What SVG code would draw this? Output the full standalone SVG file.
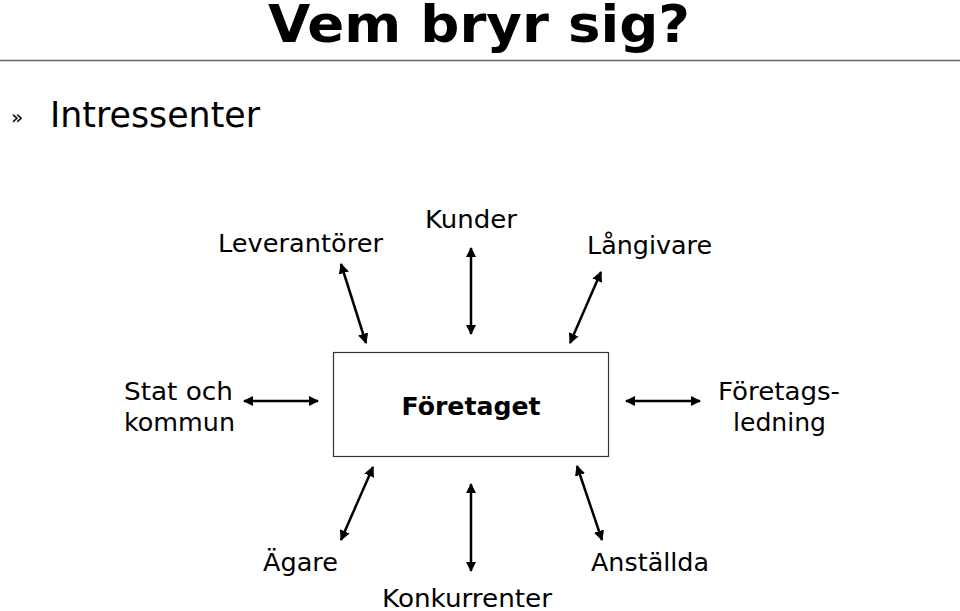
<svg xmlns="http://www.w3.org/2000/svg" width="960" height="611" viewBox="0 0 960 611">
<defs>
<marker id="ah" viewBox="0 0 10 10" refX="9" refY="5" markerWidth="4.2" markerHeight="4.2" orient="auto-start-reverse" markerUnits="strokeWidth">
<path d="M0,0 L10,5 L0,10 z" fill="#000"/>
</marker>
<style>
.lbl{font-family:"DejaVu Sans",Verdana,sans-serif;font-size:24px;fill:#000}
.c{stroke:#000;stroke-width:2.5;fill:none;marker-start:url(#ah);marker-end:url(#ah)}
</style>
</defs>
<rect width="960" height="611" fill="#fff"/>
<text x="268" y="42" font-family="DejaVu Sans,Verdana,sans-serif" font-weight="bold" font-size="52" textLength="422" lengthAdjust="spacingAndGlyphs">Vem bryr sig?</text>
<line x1="0" y1="60.5" x2="960" y2="60.5" stroke="#666" stroke-width="1.5"/>
<text x="11" y="124" font-family="DejaVu Sans,Verdana,sans-serif" font-size="20">»</text>
<text x="50" y="127" font-family="DejaVu Sans,Verdana,sans-serif" font-size="35" textLength="210" lengthAdjust="spacingAndGlyphs">Intressenter</text>
<g id="foretaget">
<rect x="333.5" y="352.5" width="275" height="104" fill="#fff" stroke="#333" stroke-width="1.2"/>
<text x="471" y="415" class="lbl" font-weight="bold" text-anchor="middle" textLength="139" lengthAdjust="spacingAndGlyphs">Företaget</text>
</g>
<g id="leverantorer"><text x="218" y="252" class="lbl" textLength="165" lengthAdjust="spacingAndGlyphs">Leverantörer</text></g>
<g id="kunder"><text x="425" y="228" class="lbl" textLength="92" lengthAdjust="spacingAndGlyphs">Kunder</text></g>
<g id="langivare"><text x="587" y="254" class="lbl" textLength="125" lengthAdjust="spacingAndGlyphs">Långivare</text></g>
<g id="stat"><text x="124" y="400" class="lbl" textLength="109" lengthAdjust="spacingAndGlyphs">Stat och</text><text x="124" y="431" class="lbl" textLength="111" lengthAdjust="spacingAndGlyphs">kommun</text></g>
<g id="ledning"><text x="718" y="400" class="lbl" textLength="122" lengthAdjust="spacingAndGlyphs">Företags-</text><text x="733" y="431" class="lbl" textLength="93" lengthAdjust="spacingAndGlyphs">ledning</text></g>
<g id="agare"><text x="263" y="571" class="lbl" textLength="75" lengthAdjust="spacingAndGlyphs">Ägare</text></g>
<g id="konkurrenter"><text x="382" y="607" class="lbl" textLength="170" lengthAdjust="spacingAndGlyphs">Konkurrenter</text></g>
<g id="anstallda"><text x="591" y="571" class="lbl" textLength="118" lengthAdjust="spacingAndGlyphs">Anställda</text></g>
<g id="connectors">
<line class="c" x1="341" y1="264" x2="366" y2="343"/>
<line class="c" x1="471" y1="248" x2="471" y2="334"/>
<line class="c" x1="601" y1="272" x2="570" y2="343"/>
<line class="c" x1="244" y1="401" x2="318" y2="401"/>
<line class="c" x1="626" y1="401" x2="700" y2="401"/>
<line class="c" x1="373" y1="467" x2="341" y2="540"/>
<line class="c" x1="471" y1="484" x2="471" y2="571"/>
<line class="c" x1="577" y1="466" x2="602" y2="540"/>
</g>
</svg>
